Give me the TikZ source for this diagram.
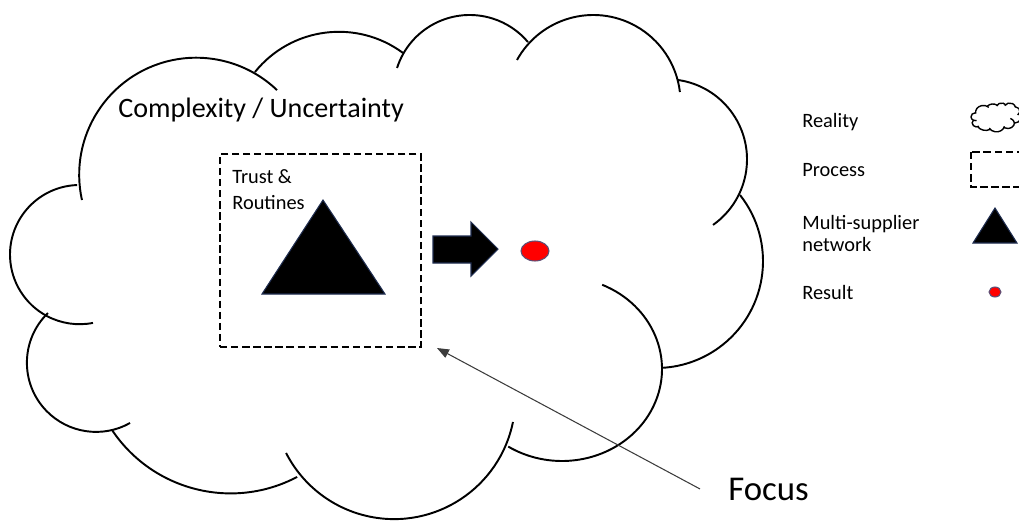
\documentclass[tikz,border=0pt]{standalone}
\usepackage{fontspec}
\setmainfont{Carlito}
\usetikzlibrary{arrows.meta,shapes.geometric}
\definecolor{navyedge}{RGB}{31,45,80}
\definecolor{dotedge}{RGB}{90,80,120}
\definecolor{arrowgray}{RGB}{60,60,60}
\tikzset{
  cloudline/.style={line width=1.1pt, black},
  processbox/.style={draw, line width=1.1pt, dash pattern=on 4.2pt off 2.1pt},
  tri/.style={fill=black, draw=navyedge, line width=0.6pt, line join=miter},
  reddot/.style={ellipse, fill=red, draw=dotedge, line width=0.6pt, inner sep=0pt},
  lbl/.style={inner sep=0pt, font=\fontsize{11.6}{14}\selectfont},
  focusarrow/.style={draw=arrowgray, line width=0.6pt, -{Triangle[length=6.8pt,width=5.2pt]}},
}
% one lobe of a cloud: centre x, centre y, x radius, y radius, start angle, end angle
\newcommand\cloudlobe[6]{%
  \draw[cloudline] ({\cox+\csx*(#1+#3*cos(#5))},{\coy+\csy*(#2+#4*sin(#5))})
    arc[start angle=#5, end angle=#6, x radius={\csx*#3}, y radius={\csy*#4}];}
\newcommand\cloudshape{%
  \cloudlobe{196.2}{-174.7}{117}{117}{192.5}{46.3}
  \cloudlobe{338.9}{-139.5}{107.7}{107.7}{141.2}{53.5}
  \cloudlobe{469.7}{-91.3}{76.3}{76.3}{162.2}{40.2}
  \cloudlobe{593.3}{-102.2}{87.2}{87.2}{151.05}{6.7}
  \cloudlobe{666.8}{-159.4}{80.2}{80.2}{82.0}{-54.8}
  \cloudlobe{656.2}{-261.2}{106.8}{106.8}{38.3}{-86.9}
  \cloudlobe{562}{-369}{100}{92}{66.3}{-122.5}
  \cloudlobe{394.1}{-397.8}{121.3}{121.3}{-11.5}{-152.95}
  \cloudlobe{230.6}{-350.8}{142.6}{142.6}{-146.3}{-62.2}
  \cloudlobe{96.1}{-362.7}{69.2}{69.2}{134.1}{299.4}
  \cloudlobe{79.6}{-254.6}{69.6}{69.6}{92.1}{281.1}}
\begin{document}
\begin{tikzpicture}[x=0.02cm,y=0.02cm]
\useasboundingbox (0,0) rectangle (1019,-521);
\clip (0,0) rectangle (1019,-521);
% main cloud (reality)
\def\cox{0}\def\coy{0}\def\csx{1}\def\csy{1}
\cloudshape
\node[anchor=base west, inner sep=0pt, font=\fontsize{16}{19}\selectfont] (complexity) at (118,-117) {Complexity / Uncertainty};
% process box
\node[processbox, minimum width=4.02cm, minimum height=3.86cm, inner sep=0pt] (process) at (320.5,-250.5) {};
\node[lbl, anchor=north west, align=left, font=\fontsize{11.6}{14.7}\selectfont] (trust) at (232,-169) {Trust \&\\Routines};
% multi-supplier network
\filldraw[tri] (323,-200) -- (385,-294) -- (262,-294) -- cycle;
% block arrow
\filldraw[tri] (433,-236) -- (471,-236) -- (471,-222) -- (498,-249) -- (471,-276) -- (471,-263) -- (433,-263) -- cycle;
% result
\node[reddot, minimum width=0.56cm, minimum height=0.4cm] (result) at (535,-251) {};
% focus
\node[anchor=base west, inner xsep=0.56cm, inner ysep=0pt, font=\fontsize{19.8}{24}\selectfont] (focus) at (700,-500) {Focus};
\coordinate (focustip) at (437,-348);
\draw[focusarrow] (focus.west) -- (focustip);
% legend
\node[lbl, anchor=base west] (lreality) at (802,-127) {Reality};
\node[lbl, anchor=base west] (lprocess) at (802,-176) {Process};
\node[lbl, anchor=north west, align=left, font=\fontsize{11.6}{12.5}\selectfont] (lnetwork) at (802,-215) {Multi-supplier\\network};
\node[lbl, anchor=base west] (lresult) at (802,-299) {Result};
\begin{scope}[cloudline/.style={line width=0.8pt, black}]
\def\cox{970.34}\def\coy{-102.14}\def\csx{0.0664}\def\csy{0.0573}
\cloudshape
\end{scope}
\draw[processbox] (971,-152) rectangle (1040,-187);
\filldraw[tri] (995,-208) -- (1017,-243) -- (973,-243) -- cycle;
\node[reddot, minimum width=0.24cm, minimum height=0.2cm] (legdot) at (995,-292) {};
\end{tikzpicture}
\end{document}
